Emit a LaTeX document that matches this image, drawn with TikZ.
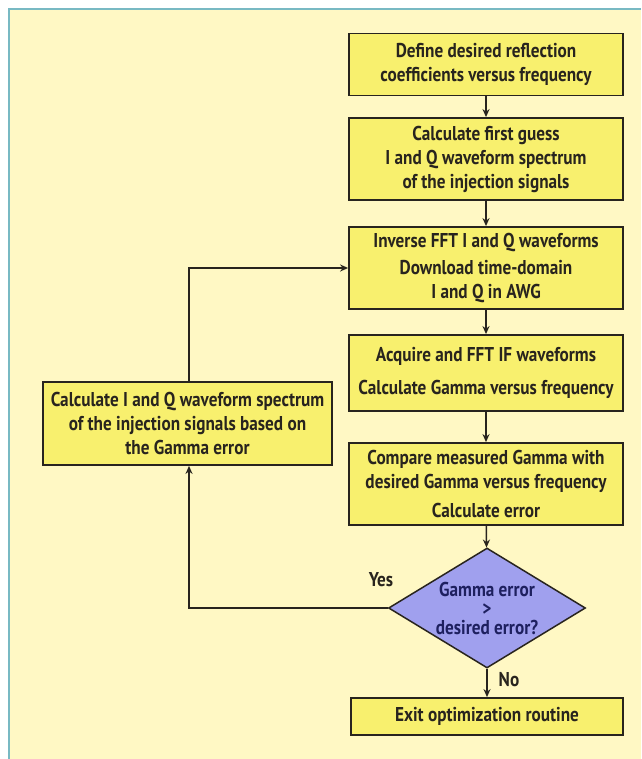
\documentclass[tikz,border=0pt]{standalone}
\usepackage{fontspec}
\setmainfont{PT Sans}[FakeStretch=0.86]
\usetikzlibrary{shapes.geometric,arrows.meta}
\definecolor{bgcream}{RGB}{255,248,196}
\definecolor{boxyel}{RGB}{248,240,110}
\definecolor{dia}{RGB}{160,160,238}
\definecolor{diatext}{RGB}{30,32,95}
\definecolor{framec}{RGB}{120,185,195}
\definecolor{ink}{RGB}{40,36,30}
\begin{document}
\begin{tikzpicture}[x=1pt,y=-1pt,
  stepbox/.style={draw=ink,line width=1.8pt,fill=boxyel,align=center,inner sep=0pt,
     minimum width=274pt,font=\fontsize{20}{24}\selectfont\bfseries,text=ink},
  conn/.style={draw=ink,line width=1.5pt,-{Stealth[length=8pt,width=7pt]}},
  lab/.style={font=\fontsize{20}{24}\selectfont\bfseries,text=ink}]
\useasboundingbox (0,0) rectangle (641,759);
\fill[white] (0,0) rectangle (641,759);
\fill[bgcream] (9,9) rectangle (641,759);
\draw[framec,line width=1.2pt] (9,759) -- (9,9) -- (641,9);

\node[stepbox,minimum height=62pt] (b1) at (486,64.5) {Define desired reflection\\coefficients versus frequency};
\node[stepbox,minimum height=82pt] (b2) at (486,159) {Calculate first guess\\I and Q waveform spectrum\\of the injection signals};
\node[stepbox,minimum height=82pt] (b3) at (486,268) {Inverse FFT I and Q waveforms\\[3pt]Download time-domain\\I and Q in AWG};
\node[stepbox,minimum height=76pt] (b4) at (486,373) {Acquire and FFT IF waveforms\\[9pt]Calculate Gamma versus frequency};
\node[stepbox,minimum height=82pt] (b5) at (486,484) {Compare measured Gamma with\\desired Gamma versus frequency\\[5pt]Calculate error};
\node[stepbox,minimum width=289pt,minimum height=83pt] (lb) at (187.5,423.5) {Calculate I and Q waveform spectrum\\of the injection signals based on\\the Gamma error};
\node[diamond,draw=ink,line width=1.5pt,fill=dia,inner sep=0pt,minimum width=197pt,minimum height=120pt] (d) at (487,608) {};
\node[align=center,text=diatext,inner sep=0pt,font=\fontsize{20}{22}\selectfont\bfseries] (dt) at (d.center) {Gamma error\\[-3pt]>\\[-3pt]desired error?};
\node[stepbox,minimum width=272pt,minimum height=37pt] (ex) at (487,716.5) {Exit optimization routine};

\coordinate (c1) at (189,608);
\coordinate (c2) at (189,268);

\draw[conn] (b1) -- (b2);
\draw[conn] (b2) -- (b3);
\draw[conn] (b3) -- (b4);
\draw[conn] (b4) -- (b5);
\draw[conn] (b5) -- (d);
\draw[conn] (d) -- (ex);
\draw[conn] (d.west) -- (c1) -- (lb.south -| c1);
\draw[conn] (lb.north -| c2) -- (c2) -- (b3.west);

\node[lab] (yes) at (381,580) {Yes};
\node[lab] (no) at (509,680) {No};
\end{tikzpicture}
\end{document}
